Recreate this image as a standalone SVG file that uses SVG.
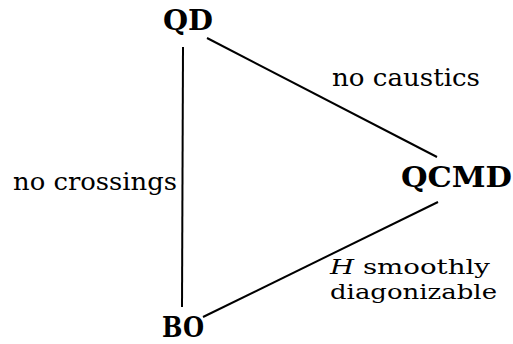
<svg xmlns="http://www.w3.org/2000/svg" width="513" height="344" viewBox="0 0 513 344">
<style>
.node{font-family:'DejaVu Serif','Liberation Serif','Noto Serif',serif;font-weight:bold;font-size:27px;fill:#000}
.lbl{font-family:'DejaVu Serif','Liberation Serif','Noto Serif',serif;font-size:24px;fill:#000}
.lbl2{font-family:'DejaVu Serif','Liberation Serif','Noto Serif',serif;font-size:21px;fill:#000}
.edge{stroke:#000;stroke-width:2;fill:none}
</style>
<rect width="513" height="344" fill="#fff"/>
<g id="connectors">
<line class="edge" x1="183" y1="47" x2="182" y2="307"/>
<line class="edge" x1="207" y1="38" x2="437" y2="157"/>
<line class="edge" x1="438" y1="202" x2="203" y2="317"/>
</g>
<g id="QD"><text class="node" x="163" y="30" textLength="50" lengthAdjust="spacingAndGlyphs">QD</text></g>
<g id="QCMD"><text class="node" x="401" y="187" textLength="111" lengthAdjust="spacingAndGlyphs">QCMD</text></g>
<g id="BO"><text class="node" x="162" y="337" textLength="42" lengthAdjust="spacingAndGlyphs">BO</text></g>
<g id="labels">
<text class="lbl" x="332" y="86" textLength="148" lengthAdjust="spacingAndGlyphs">no caustics</text>
<text class="lbl" x="13" y="190" textLength="164" lengthAdjust="spacingAndGlyphs">no crossings</text>
<text class="lbl2" x="330" y="274" textLength="160" lengthAdjust="spacingAndGlyphs"><tspan font-style="italic">H</tspan> smoothly</text>
<text class="lbl2" x="330" y="299" textLength="167" lengthAdjust="spacingAndGlyphs">diagonizable</text>
</g>
</svg>
